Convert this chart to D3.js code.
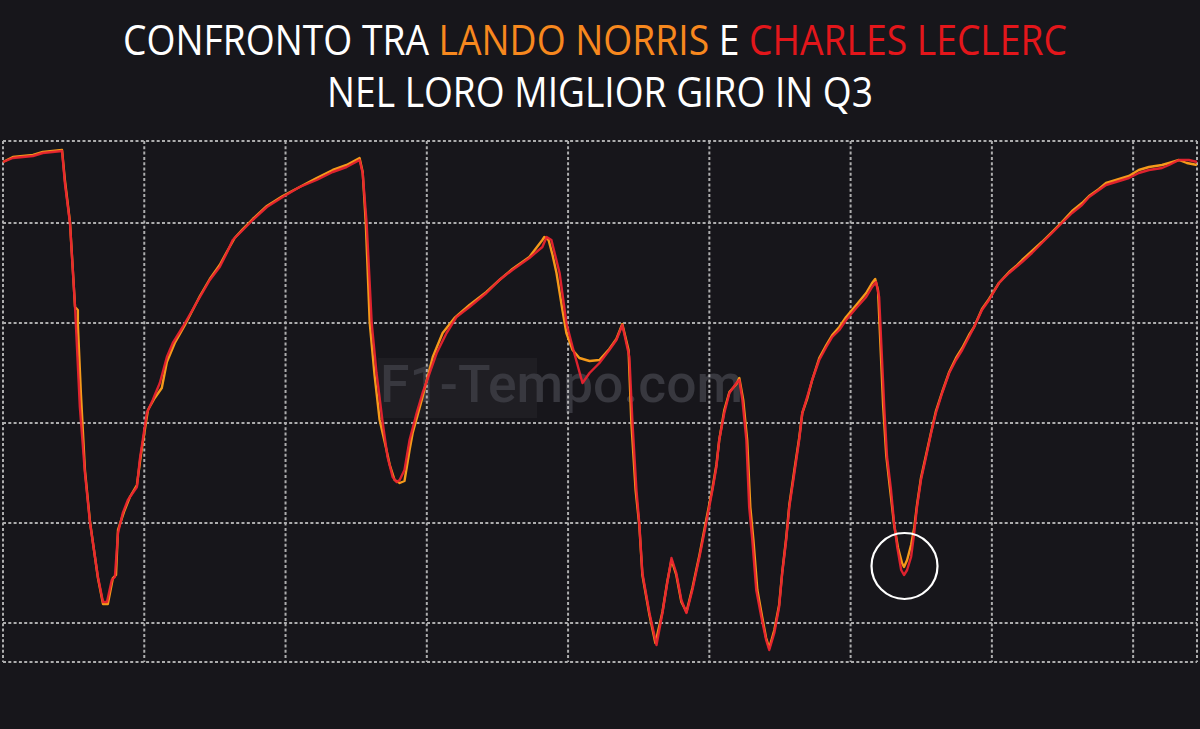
<!DOCTYPE html>
<html><head><meta charset="utf-8">
<script src="https://cdn.jsdelivr.net/npm/d3@7"></script>
<style>html,body{margin:0;padding:0;background:#17161b;overflow:hidden}svg{display:block}</style>
</head><body>
<svg id="chart" width="1200" height="729"></svg>
<script>
// ---- DATA ----
const titleLine1 = [["CONFRONTO TRA ", "#ffffff"], ["LANDO NORRIS", "#f7881e"], [" E ", "#ffffff"], ["CHARLES LECLERC", "#e3161b"]];
const titleLine2 = "NEL LORO MIGLIOR GIRO IN Q3";
const watermarkText = "F1-Tempo.com";
const distanceTicks = [0, 500, 1000, 1500, 2000, 2500, 3000, 3500, 4000];
const speedTicks = [100, 150, 200, 250, 300];
const distanceDomain = [0, 4226];
const speedDomain = [80.5, 341];
// [distance m, speed km/h]
const norris = [[0,330.5],[35,333],[106,334],[141,335.5],[209,336.5],[219,321.5],[237,300.5],[255,258],[265,256.5],[265,249],[276,214],[290,176.5],[308,150.5],[336,122.5],[354,109.5],[371,109.5],[389,122.5],[400,124],[407,146.5],[428,155.5],[449,163],[474,169],[488,184],[513,206.5],[537,212.5],[562,217.5],[580,230.5],[608,240],[644,249],[697,263.5],[732,272],[767,279],[792,285.5],[820,292.5],[849,297],[884,302],[934,308.5],[990,313.5],[1050,318],[1110,322.5],[1167,326.5],[1216,329],[1262,332.5],[1273,325.5],[1284,300],[1298,250],[1315,224],[1333,201.5],[1351,190.5],[1369,179],[1386,171.5],[1404,170],[1421,171],[1439,186.5],[1450,195],[1485,213],[1521,233],[1556,245],[1598,252.5],[1651,259],[1711,265.5],[1757,271.5],[1803,277],[1863,283],[1909,291.5],[1916,293],[1931,291.5],[1945,284],[1959,275],[1980,256.5],[1994,245],[2016,236.5],[2040,232.5],[2076,231],[2111,231.5],[2146,237],[2171,242],[2192,249.5],[2214,236.5],[2224,200],[2239,166.5],[2252,149],[2263,124],[2288,104],[2309,90],[2334,105.5],[2351,120.5],[2366,131.5],[2383,124],[2401,110.5],[2419,105.5],[2440,117.5],[2465,134],[2489,151.5],[2511,167.5],[2525,179],[2535,191.5],[2553,206.5],[2571,215.5],[2596,219.5],[2606,222.5],[2620,211.5],[2634,191.5],[2645,158],[2656,141.5],[2670,116.5],[2687,103],[2701,92.5],[2712,87.5],[2730,96.5],[2747,109],[2758,125.5],[2772,142.5],[2783,159],[2801,176.5],[2818,192.5],[2829,205],[2847,212.5],[2864,221.5],[2889,232.5],[2914,239],[2935,244],[2960,248],[2984,253],[3020,259],[3055,265],[3076,270],[3087,272],[3097,266.5],[3104,244],[3115,209],[3126,184],[3140,166.5],[3154,149],[3168,137.5],[3182,130],[3189,128],[3200,131.5],[3214,139],[3225,147.5],[3235,159],[3249,172.5],[3267,184],[3285,195.5],[3302,206],[3324,215.5],[3349,225.5],[3373,232.5],[3395,237.5],[3419,244],[3437,248],[3465,257],[3490,262],[3525,270],[3561,275.5],[3586,278.5],[3607,281.5],[3642,286],[3677,290.5],[3713,295.5],[3748,300.5],[3784,306],[3819,310],[3844,313.5],[3879,317],[3904,320],[3939,321.5],[3985,323.5],[4020,326.5],[4056,328],[4102,329],[4127,330],[4162,331.5],[4190,330],[4226,329]];
const leclerc = [[0,330.5],[35,332.5],[106,333.5],[141,335],[209,336],[219,320],[237,300],[255,258],[272,208],[290,175],[308,150],[336,123],[354,110.5],[368,110.5],[385,121.5],[396,123],[407,145],[424,155],[442,161.5],[474,168],[484,181.5],[509,205],[530,211.5],[555,220],[580,233],[601,240],[636,248],[697,263],[732,271.5],[767,278],[792,285],[813,291.5],[849,296.5],[884,301.5],[934,308],[990,313],[1050,318],[1110,321.5],[1167,325.5],[1216,328],[1262,331.5],[1273,325],[1287,300],[1305,250],[1322,225],[1344,200],[1361,183],[1379,173],[1393,170.5],[1404,171.5],[1421,176.5],[1439,191.5],[1464,205],[1485,215],[1510,225],[1535,235],[1570,245],[1605,253],[1651,258],[1711,265],[1757,271.5],[1803,276.5],[1863,282.5],[1909,288],[1924,293],[1941,291.5],[1970,275],[1994,250],[2016,238],[2051,220],[2076,225],[2111,230],[2146,236.5],[2171,241.5],[2192,249],[2217,233],[2228,200],[2242,166.5],[2252,150],[2263,125],[2288,105],[2313,89],[2334,105],[2351,120],[2366,132.5],[2383,125],[2401,111.5],[2419,105],[2440,116.5],[2465,133],[2489,150],[2511,166.5],[2525,178],[2535,191.5],[2553,205],[2571,215],[2596,220],[2606,221.5],[2617,211.5],[2631,191.5],[2641,158],[2652,141.5],[2666,116.5],[2684,103],[2701,91.5],[2712,86.5],[2730,95],[2747,108],[2758,125],[2772,141.5],[2783,158],[2801,175],[2818,191.5],[2829,205],[2843,211.5],[2864,221.5],[2889,231.5],[2914,238],[2935,243],[2960,246.5],[2984,251.5],[3020,257.5],[3055,263],[3076,268],[3090,270.5],[3101,263],[3108,241.5],[3119,208],[3129,183],[3143,166.5],[3154,150],[3165,138],[3179,126.5],[3189,124],[3200,126.5],[3214,133],[3225,145],[3235,158],[3249,171.5],[3267,183],[3285,195],[3302,205],[3324,215],[3349,225],[3373,231.5],[3395,236.5],[3419,243],[3437,248],[3465,256.5],[3490,261.5],[3525,270],[3561,275],[3586,278],[3607,280.5],[3642,285],[3677,290],[3713,295],[3748,300],[3784,305],[3819,309],[3844,313],[3879,316.5],[3904,319],[3939,320.5],[3985,322.5],[4020,325],[4056,326.5],[4102,327.5],[4127,329],[4162,331.5],[4197,331.5],[4226,330.5]];
const highlightPoint = [3189, 128];

// ---- CHART ----
const svg = d3.select("#chart");
const W = 1200, H = 729;
svg.append("rect").attr("width", W).attr("height", H).attr("fill", "#17161b");

const plot = {left: 3, right: 1197, top: 141, bottom: 662};
const x = d3.scaleLinear().domain(distanceDomain).range([plot.left, plot.right]);
const y = d3.scaleLinear().domain(speedDomain).range([plot.bottom, plot.top]);

// Title
function fitText(sel, cx, baseline, targetW) {
  const w = sel.node().getComputedTextLength();
  sel.attr("transform", `translate(${cx},${baseline}) scale(${targetW / w},1)`);
}
const t1 = svg.append("text").attr("text-anchor", "middle")
  .attr("font-family", "'Open Sans', sans-serif").attr("font-size", 42);
titleLine1.forEach(([s, c]) => t1.append("tspan").attr("fill", c).text(s));
t1.attr("xml:space", "preserve").style("white-space", "pre");
fitText(t1, 595, 55, 944);
const t2 = svg.append("text").attr("text-anchor", "middle")
  .attr("font-family", "'Open Sans', sans-serif").attr("font-size", 42)
  .attr("fill", "#ffffff").text(titleLine2);
fitText(t2, 600, 107, 546);

// Watermark
svg.append("rect").attr("x", 378).attr("y", 358).attr("width", 159).attr("height", 60)
  .attr("fill", "#ffffff").attr("opacity", 0.035);
const wm = svg.append("text").attr("font-family", "Roboto, sans-serif").attr("font-weight", 500)
  .attr("font-size", 52).attr("fill", "#38383f").text(watermarkText);
const ww = wm.node().getComputedTextLength();
wm.attr("transform", `translate(380,402) scale(${363 / ww},1)`);

// Grid
const grid = svg.append("g").attr("stroke", "#c8c8c8").attr("stroke-width", 2)
  .attr("stroke-dasharray", "3,2.3").attr("opacity", 0.85);
grid.selectAll("line.v").data(distanceTicks).join("line").attr("class", "v")
  .attr("x1", d => x(d)).attr("x2", d => x(d)).attr("y1", plot.top).attr("y2", plot.bottom);
grid.append("line").attr("x1", plot.right).attr("x2", plot.right).attr("y1", plot.top).attr("y2", plot.bottom);
grid.selectAll("line.h").data(speedTicks).join("line").attr("class", "h")
  .attr("y1", d => y(d)).attr("y2", d => y(d)).attr("x1", plot.left).attr("x2", plot.right);
grid.append("line").attr("y1", plot.top).attr("y2", plot.top).attr("x1", plot.left).attr("x2", plot.right);
grid.append("line").attr("y1", plot.bottom).attr("y2", plot.bottom).attr("x1", plot.left).attr("x2", plot.right);

// Lines
const line = d3.line().x(d => x(d[0])).y(d => y(d[1])).curve(d3.curveLinear);
svg.append("path").datum(norris).attr("d", line).attr("fill", "none")
  .attr("stroke", "#f59a1a").attr("stroke-width", 2.4).attr("stroke-linejoin", "round");
svg.append("path").datum(leclerc).attr("d", line).attr("fill", "none")
  .attr("stroke", "#e8232f").attr("stroke-width", 2.4).attr("stroke-linejoin", "round").attr("opacity", 0.95);

// Highlight circle
svg.append("circle").attr("cx", x(highlightPoint[0]) + 0.5).attr("cy", y(highlightPoint[1]) - 1)
  .attr("r", 33).attr("fill", "none").attr("stroke", "#ffffff").attr("stroke-width", 2.2);
</script>
</body></html>
